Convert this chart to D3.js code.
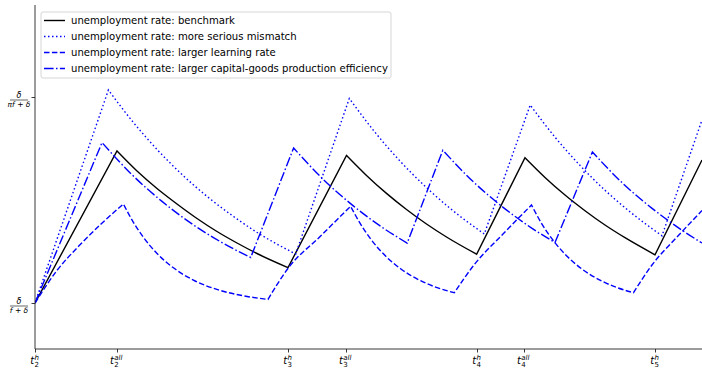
<!DOCTYPE html>
<html><head><meta charset="utf-8">
<script src="https://cdn.jsdelivr.net/npm/d3@7"></script>
<style>body{margin:0;background:#fff}svg{display:block;font-family:"DejaVu Sans",sans-serif}</style>
</head><body><div id="chart"></div>
<script>
// time (arbitrary units) and unemployment (arbitrary units: 0 = δ/(f+δ), 206 = δ/(πf+δ))
const benchmark = [[0,0],[82,152],[102,132],[122,114.5],[142,99],[162,84.5],[182,71.5],[202,60],[222,49.5],[253,35.4],
  [311.5,147.6],[331.5,127.6],[351.5,109.6],[371.5,93.5],[391.5,79],[411.5,66],[441.6,48.8],
  [490,145.3],[510,125.6],[530,108],[550,92.3],[570,78],[590,65.3],[620,48.2],[667,143]];
const mismatch = [[0,0],[73.4,213],[98.4,180.5],[123.4,152.1],[148.4,127.2],[173.4,105.5],[198.4,86.6],[223.4,69.7],[260.7,49],
  [314.3,204.6],[339.3,171.6],[364.3,142.7],[389.3,117.5],[414.3,95.3],[449.3,69],
  [495.2,198],[520.2,165.6],[545.2,137.4],[570.2,112.6],[595.2,91],[627,67.2],[667,183]];
const learning = [[0,0],[22.1,32.7],[44.2,57.4],[66.3,79.2],[88.4,99],[98.4,80.7],[108.4,65.7],[123.4,48.2],[138.4,35.2],[158.4,22.9],[183.4,13.1],[208.4,7.2],[233,3.6],
  [253.6,35.4],[284.6,66],[315.6,96.7],[325.6,78.8],[335.6,64.1],[350.6,46.9],[365.6,34.2],[385.6,22.3],[400.6,15.9],[419.3,10.3],
  [439,38],[468,69],[496.5,98],[506.5,79.7],[516.5,64.8],[531.5,47.3],[546.5,34.3],[566.5,22.1],[581.5,15.6],[598.5,10.3],
  [617,38],[642,66],[667,92.4]];
const efficiency = [[0,0],[67,160.4],[97,128.3],[127,101.6],[157,79.1],[187,60.4],[215.7,45.5],
  [258.6,155],[288.6,123.3],[318.6,96.9],[348.6,74.7],[372.2,59.9],
  [407.8,152.7],[437.8,121.7],[467.8,95.9],[497.8,74.2],[520,60.5],
  [557.4,151],[587.4,120],[617.4,94.4],[647.4,72.5],[667,60]];
const xTickValues = [0, 82, 253, 311, 442, 489, 620];
const xTickSup = ["h","all","h","all","h","all","h"];
const xTickSub = ["2","2","3","3","4","4","5"];
const yTickValues = [0, 206];
const yTickDen = ["f + δ", "πf + δ"];
const seriesNames = ["unemployment rate: benchmark","unemployment rate: more serious mismatch",
  "unemployment rate: larger learning rate","unemployment rate: larger capital-goods production efficiency"];

const W = 702, H = 369;
const svg = d3.select("#chart").append("svg").attr("width", W).attr("height", H);
const x = d3.scaleLinear().domain([0, 667]).range([35, 702]);
const y = d3.scaleLinear().domain([-46, 298]).range([349, 5]);

const styles = [
  {data: benchmark, color: "#000", dash: null},
  {data: mismatch, color: "#0000ff", dash: "1.5,2.5"},
  {data: learning, color: "#0000ff", dash: "5.5,2.4"},
  {data: efficiency, color: "#0000ff", dash: "9.6,2.4,1.5,2.4"}
];
svg.append("clipPath").attr("id","clip").append("rect").attr("x",35).attr("y",0).attr("width",667).attr("height",349);

// split a series into monotone pieces (rise / decay), draw each smoothly, join into one path
const piece = d3.line().x(d => x(d[0])).y(d => y(d[1])).curve(d3.curveMonotoneX);
function pathFor(data) {
  const pieces = [];
  let cur = [data[0]];
  for (let i = 1; i < data.length; i++) {
    cur.push(data[i]);
    if (i < data.length - 1) {
      const a = data[i][1] - data[i-1][1], b = data[i+1][1] - data[i][1];
      if (a * b < 0) { pieces.push(cur); cur = [data[i]]; }
    }
  }
  pieces.push(cur);
  return pieces.map((p, k) => {
    const s = piece(p);
    return k === 0 ? s : s.replace(/^M/, "L");
  }).join("");
}
const g = svg.append("g").attr("clip-path","url(#clip)");
styles.forEach(s => {
  g.append("path").attr("d", pathFor(s.data)).attr("fill","none").attr("stroke", s.color)
   .attr("stroke-width", 1.4).attr("stroke-dasharray", s.dash).attr("stroke-linejoin","miter");
});

// axes
const xAxis = d3.axisBottom(x).tickValues(xTickValues).tickSize(3.5).tickFormat("");
const ga = svg.append("g").attr("transform","translate(0,349)").call(xAxis);
ga.select(".domain").attr("d","M35,0H702").attr("stroke","#222").attr("stroke-width",0.9);
ga.selectAll(".tick line").attr("stroke","#222").attr("stroke-width",0.9);
const yAxis = d3.axisLeft(y).tickValues(yTickValues).tickSize(3.5).tickFormat("");
const gy = svg.append("g").attr("transform","translate(35,0)").call(yAxis);
gy.select(".domain").attr("d","M0,5V349").attr("stroke","#222").attr("stroke-width",0.9);
gy.selectAll(".tick line").attr("stroke","#222").attr("stroke-width",0.9);

// x tick labels (math)
xTickValues.forEach((v,i) => {
  const px = x(v);
  const wSup = xTickSup[i] === "all" ? 9 : 4.5;
  const total = 5 + wSup;
  const x0 = px - total/2;
  const lg = svg.append("g");
  lg.append("text").attr("x", x0).attr("y", 364).attr("font-size", 10).attr("font-style","italic").text("t");
  lg.append("text").attr("x", x0+4.3).attr("y", 359.5).attr("font-size", 7).attr("font-style","italic").text(xTickSup[i]);
  lg.append("text").attr("x", x0+4.3).attr("y", 367).attr("font-size", 7).text(xTickSub[i]);
});

// y tick labels (fractions)
yTickValues.forEach((v,i) => {
  const py = y(v);
  const cx = 19;
  const lg = svg.append("g").attr("fill","#000");
  lg.append("text").attr("x", cx).attr("y", py + 0.5).attr("font-size", 8).attr("font-style","italic").attr("text-anchor","middle").text("δ");
  lg.append("line").attr("x1", cx-9).attr("x2", cx+9).attr("y1", py+3).attr("y2", py+3).attr("stroke","#000").attr("stroke-width",0.6);
  lg.append("text").attr("x", cx).attr("y", py + 10).attr("font-size", 7.5).attr("font-style","italic").attr("text-anchor","middle").text(yTickDen[i]);
});

// legend
const lgd = svg.append("g");
lgd.append("rect").attr("x",41).attr("y",12).attr("width",350).attr("height",66).attr("rx",2)
  .attr("fill","#fff").attr("fill-opacity",0.8).attr("stroke","#ccc").attr("stroke-width",0.8);
styles.forEach((s,i) => {
  const ry = 20.5 + i*16;
  lgd.append("line").attr("x1",44).attr("x2",65).attr("y1",ry).attr("y2",ry)
    .attr("stroke", s.color).attr("stroke-width",1.4).attr("stroke-dasharray", s.dash);
  lgd.append("text").attr("x",71).attr("y",ry+3.6).attr("font-size",10.1).attr("fill","#000").text(seriesNames[i]);
});
</script></body></html>
